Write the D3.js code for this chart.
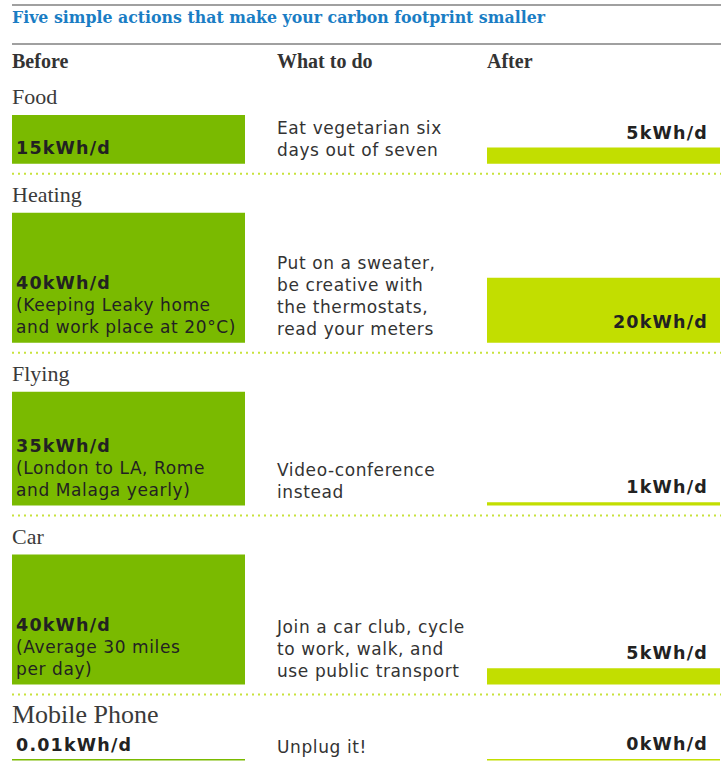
<!DOCTYPE html>
<html><head><meta charset="utf-8">
<script src="https://cdn.jsdelivr.net/npm/d3@7"></script>
<style>body{margin:0;background:#fff}</style>
</head><body><svg id="c" width="721" height="771"></svg>
<script>
const title = "Five simple actions that make your carbon footprint smaller";
const headers = ["Before", "What to do", "After"];
const categories = ["Food", "Heating", "Flying", "Car", "Mobile Phone"];
const beforeValues = [15, 40, 35, 40, 0.01];
const afterValues = [5, 20, 1, 5, 0];
const beforeNotes = [
  [],
  ["(Keeping Leaky home", "and work place at 20°C)"],
  ["(London to LA, Rome", "and Malaga yearly)"],
  ["(Average 30 miles", "per day)"],
  []
];
const actions = [
  ["Eat vegetarian six", "days out of seven"],
  ["Put on a sweater,", "be creative with", "the thermostats,", "read your meters"],
  ["Video-conference", "instead"],
  ["Join a car club, cycle", "to work, walk, and", "use public transport"],
  ["Unplug it!"]
];
const unit = "kWh/d";

const W = 721;
const svg = d3.select("#c");
const hScale = d3.scaleLinear().domain([0, 40]).range([0, 130]);
const col = d3.scaleOrdinal().domain(headers).range([12, 277, 487]);
const barW = 233;
const cBefore = "#7aba00", cAfter = "#c2de00", cDots = "#c8e23c";
const sans = "'DejaVu Sans', Verdana, sans-serif";
const serif = "'Liberation Serif', 'Times New Roman', serif";

// rules
svg.append("line").attr("x1", 12).attr("x2", W).attr("y1", 5).attr("y2", 5)
  .attr("stroke", "#a0a0a0").attr("stroke-width", 2);
svg.append("line").attr("x1", 12).attr("x2", W).attr("y1", 44).attr("y2", 44)
  .attr("stroke", "#a0a0a0").attr("stroke-width", 2);

svg.append("text").attr("x", 12).attr("y", 23)
  .attr("font-family", "'DejaVu Serif', serif").attr("font-weight", "bold")
  .attr("font-size", 17).attr("fill", "#1a7dc4")
  .attr("textLength", 533).attr("lengthAdjust", "spacingAndGlyphs")
  .text(title);

svg.selectAll("text.hdr").data(headers).enter().append("text")
  .attr("class", "hdr")
  .attr("x", d => col(d)).attr("y", 68)
  .attr("font-family", serif).attr("font-weight", "bold")
  .attr("font-size", 20).attr("fill", "#333").text(d => d);

let s = 76;
categories.forEach((cat, i) => {
  const bh = Math.max(hScale(beforeValues[i]), 1.5);
  const ah = Math.max(hScale(afterValues[i]), 1.5);
  const rowH = Math.max(hScale(beforeValues[i]), hScale(afterValues[i]), 27);
  const top = s + 39;
  const bottom = top + rowH;

  // category label
  svg.append("text").attr("x", 12).attr("y", s + 28)
    .attr("font-family", serif).attr("font-size", i === 4 ? 26 : 22)
    .attr("fill", "#3a3a3a").text(cat);

  // bars
  svg.append("rect").attr("x", col("Before")).attr("y", bottom - bh)
    .attr("width", barW).attr("height", bh).attr("fill", cBefore);
  svg.append("rect").attr("x", col("After")).attr("y", bottom - ah)
    .attr("width", barW).attr("height", ah).attr("fill", cAfter);

  // before label
  const bLines = [{t: beforeValues[i] + unit, b: true}].concat(beforeNotes[i].map(t => ({t, b: false})));
  const bt = svg.append("text").attr("font-family", sans).attr("font-size", 17).attr("fill", "#222");
  bLines.forEach((l, k) => {
    bt.append("tspan").attr("x", col("Before") + 4)
      .attr("y", bottom - 9.5 - (bLines.length - 1 - k) * 22)
      .attr("font-weight", l.b ? "bold" : "normal")
      .attr("font-size", l.b ? 17.5 : 17)
      .attr("letter-spacing", l.b ? 1.2 : 0.6)
      .text(l.t);
  });

  // action text
  const at = svg.append("text").attr("font-family", sans).attr("font-size", 17)
    .attr("fill", "#333").attr("letter-spacing", 0.6);
  actions[i].forEach((t, k) => {
    at.append("tspan").attr("x", col("What to do"))
      .attr("y", bottom - 8 - (actions[i].length - 1 - k) * 22).text(t);
  });

  // after label
  const ahRaw = hScale(afterValues[i]);
  const ay = ahRaw > 40 ? bottom - 15 : bottom - ah - 9;
  svg.append("text").attr("x", col("After") + barW - 12).attr("y", ay)
    .attr("text-anchor", "end").attr("font-family", sans).attr("font-weight", "bold")
    .attr("font-size", 17.5).attr("letter-spacing", 1.2).attr("fill", "#222")
    .text(afterValues[i] + unit);

  // dotted separator
  if (i < categories.length - 1) {
    svg.append("line").attr("x1", 12).attr("x2", W).attr("y1", bottom + 10).attr("y2", bottom + 10)
      .attr("stroke", cDots).attr("stroke-width", 2).attr("stroke-dasharray", "2,4");
  }
  s = bottom + 10;
});
</script></body></html>
